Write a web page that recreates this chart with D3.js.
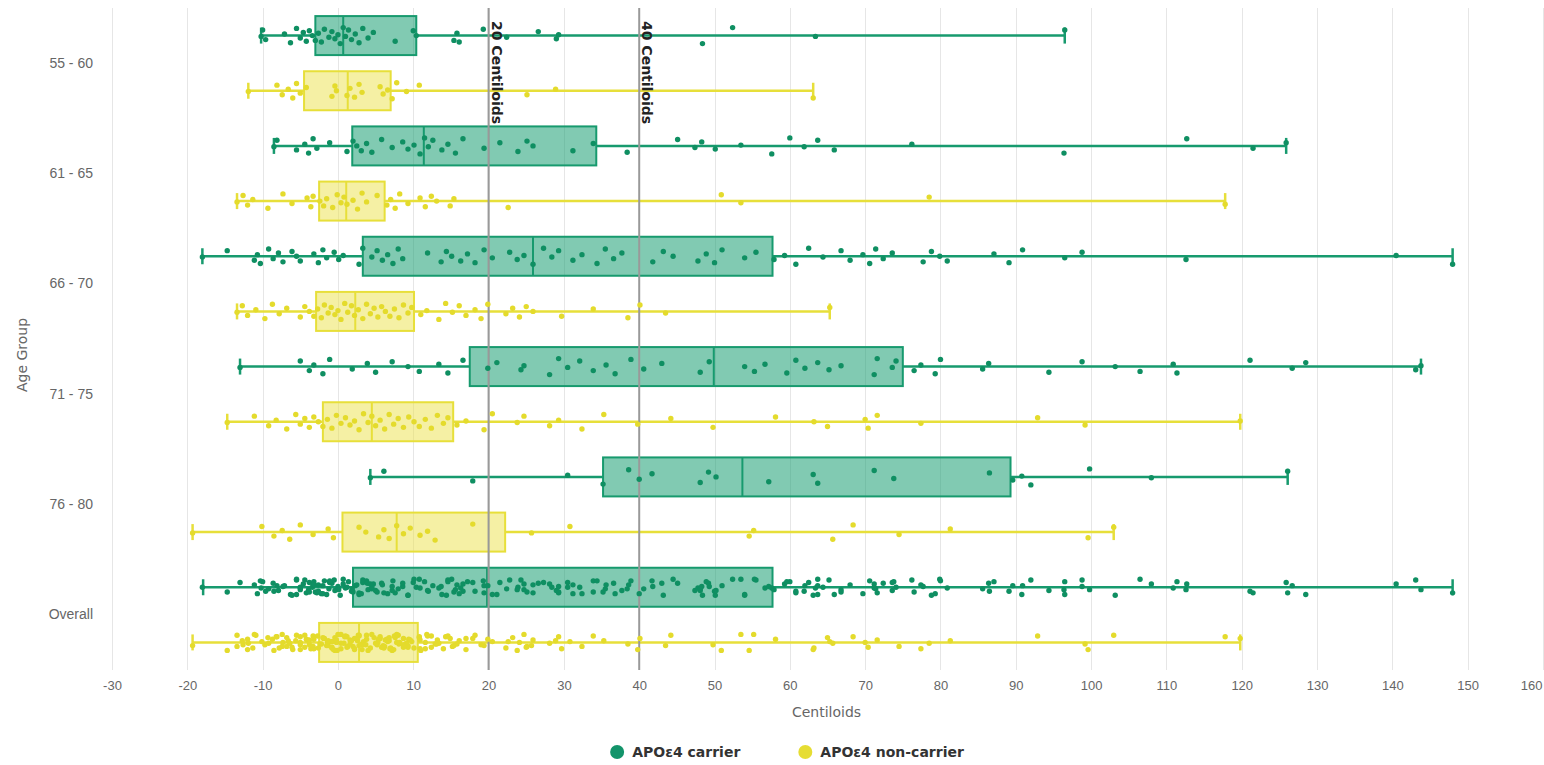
<!DOCTYPE html>
<html>
<head>
<meta charset="utf-8">
<script src="https://cdn.jsdelivr.net/npm/d3@7"></script>
<style>
  html, body { margin: 0; padding: 0; background: #fff; }
  svg { display: block; font-family: "DejaVu Sans", "Open Sans", sans-serif; }
</style>
</head>
<body>
<svg id="chart" width="1544" height="765"></svg>
<script>
// ---- data ---------------------------------------------------------------
const categories = ["55 - 60", "61 - 65", "66 - 70", "71 - 75", "76 - 80", "Overall"];
const seriesNames = ["APOε4 carrier", "APOε4 non-carrier"];
const xTickValues = [-30, -20, -10, 0, 10, 20, 30, 40, 50, 60, 70, 80, 90, 100, 110, 120, 130, 140, 150, 160];
const referenceValues = [20, 40];
const referenceLabels = ["20 Centiloids", "40 Centiloids"];

// box statistics per age group: [low, q1, median, q3, high]
const carrierBoxes = [
  [-10.2, -3.0, 0.7, 10.4, 96.5],
  [-8.5, 1.9, 11.4, 34.3, 125.9],
  [-18.0, 3.3, 25.9, 57.7, 148.0],
  [-13.0, 17.5, 49.9, 75.0, 143.8],
  [4.3, 35.2, 53.7, 89.3, 126.1],
  [-17.9, 2.0, 19.8, 57.7, 148.0]
];
const nonCarrierBoxes = [
  [-11.9, -4.5, 1.3, 7.0, 63.1],
  [-13.4, -2.5, 1.1, 6.2, 117.8],
  [-13.4, -2.9, 2.3, 10.1, 65.3],
  [-14.7, -2.0, 4.5, 15.3, 119.8],
  [-19.3, 0.6, 7.8, 22.2, 103.0],
  [-19.3, -2.5, 2.8, 10.6, 119.8]
];

// individual Centiloid values per age group
const carrier5560 = [-10.2, -10, -9.6, -7.1, -6.3, -5.5, -5.0, -4.6, -4.2, -3.8, -3.4, -3.0, -2.6, -2.2, -1.8, -1.2, -0.8, -0.4, 0, 0.3, 0.7, 1.0, 1.4, 1.8, 2.3, 2.8, 3.3, 4.0, 4.7, 7.6, 10.0, 10.4, 15.4, 15.8, 16.1, 19.3, 22.4, 26.6, 29.0, 29.3, 48.4, 52.4, 63.4, 96.5];
const nonCarrier5560 = [-11.9, -8.1, -7.4, -6.6, -6.0, -5.5, -5.0, -4.2, -0.8, -0.4, -0.2, 1.2, 1.6, 2.2, 2.8, 3.2, 5.6, 6.0, 6.6, 7.2, 7.8, 9.1, 10.8, 25.1, 28.9, 63.1];
const carrier6165 = [-8.5, -8.1, -5.5, -4.4, -3.9, -3.3, -2.8, -1.1, 1.2, 2.0, 2.5, 3.1, 3.8, 4.5, 5.8, 7.2, 8.6, 9.3, 10.1, 10.9, 11.5, 12.0, 12.6, 13.8, 14.6, 15.6, 16.6, 19.4, 21.5, 23.9, 25.1, 25.9, 31.2, 33.9, 38.4, 45.1, 47.4, 48.3, 50.1, 53.5, 57.6, 60.0, 61.9, 63.7, 65.9, 76.2, 96.4, 112.7, 121.5, 125.9];
const nonCarrier6165 = [-13.4, -12.6, -12.0, -11.3, -9.3, -7.3, -6.1, -4.1, -3.6, -3.3, -2.4, -1.9, -1.5, -0.7, -0.1, 0.4, 0.8, 1.2, 2.0, 2.6, 3.2, 3.8, 5.2, 6.5, 7.0, 7.6, 8.2, 9.3, 10.9, 11.6, 12.4, 13.1, 14.9, 15.4, 22.6, 50.9, 53.5, 78.5, 117.8];
const carrier6670 = [-18.0, -14.7, -11.1, -10.7, -10.3, -9.2, -8.6, -7.9, -7.3, -6.1, -5.5, -5.0, -3.2, -2.6, -2.0, -1.5, -0.5, 0.1, 0.7, 2.8, 3.3, 4.5, 5.2, 5.9, 6.6, 7.3, 8.0, 8.6, 11.9, 13.7, 14.4, 15.1, 16.3, 17.2, 18.2, 19.4, 20.5, 22.8, 23.8, 24.7, 25.9, 27.3, 28.4, 29.3, 31.2, 32.4, 34.4, 35.5, 36.6, 37.7, 41.8, 43.2, 44.5, 47.8, 48.9, 50.0, 51.0, 54.0, 55.5, 57.9, 59.3, 60.8, 62.5, 64.4, 66.8, 68.0, 69.7, 70.6, 71.4, 72.4, 73.6, 77.7, 78.8, 79.9, 80.9, 87.1, 89.1, 90.9, 96.5, 98.8, 112.6, 140.5, 148.0];
const nonCarrier6670 = [-13.4, -12.7, -12.0, -10.9, -9.7, -8.7, -7.8, -6.8, -5.0, -4.4, -3.8, -3.2, -2.7, -2.2, -1.8, -1.3, -0.9, -0.4, 0.0, 0.4, 0.9, 1.3, 1.8, 2.2, 2.7, 3.3, 3.8, 4.3, 4.8, 5.3, 5.8, 6.3, 6.9, 7.5, 8.1, 8.7, 9.3, 9.8, 11.0, 11.8, 13.4, 14.3, 15.2, 16.1, 17.0, 18.2, 19.0, 19.9, 22.3, 23.2, 24.1, 25.0, 25.9, 29.7, 33.9, 38.5, 40.1, 43.5, 65.3];
const carrier7175 = [-13.0, -5.0, -3.8, -3.2, -2.0, -1.1, 1.9, 3.9, 5.0, 7.2, 9.3, 10.8, 13.4, 14.6, 16.6, 19.9, 21.1, 24.3, 24.7, 28.1, 29.3, 30.5, 32.1, 33.9, 35.6, 36.8, 38.9, 40.6, 43.0, 48.1, 49.3, 54.0, 55.3, 56.7, 59.6, 60.8, 62.0, 63.7, 65.2, 66.8, 71.2, 71.6, 73.6, 74.1, 76.5, 77.4, 79.3, 80.0, 85.6, 86.4, 94.4, 98.8, 103.2, 106.5, 110.9, 111.4, 121.1, 126.7, 128.5, 143.1, 143.8];
const nonCarrier7175 = [-14.7, -11.1, -9.2, -8.2, -6.8, -5.6, -5.0, -4.4, -3.8, -3.2, -2.6, -2.0, -1.4, -0.8, -0.2, 0.4, 1.0, 1.6, 2.2, 2.8, 3.4, 4.0, 4.5, 5.0, 5.6, 6.2, 6.8, 7.4, 8.0, 8.7, 9.4, 10.1, 10.8, 11.6, 12.4, 13.2, 14.0, 14.6, 15.8, 17.0, 19.4, 20.5, 23.8, 24.7, 28.1, 29.3, 32.4, 35.3, 39.8, 44.2, 49.8, 58.1, 63.2, 65.0, 70.0, 70.4, 71.6, 77.4, 92.9, 99.2, 119.8];
const carrier7680 = [4.3, 6.1, 17.9, 30.5, 35.2, 38.6, 40.0, 41.7, 48.1, 49.2, 50.2, 57.2, 63.1, 63.7, 71.2, 73.8, 86.5, 89.6, 90.8, 92.0, 99.8, 108.0, 126.1];
const nonCarrier7680 = [-19.3, -10.1, -8.5, -7.4, -6.4, -5.0, -3.3, -1.3, -0.6, 2.8, 3.7, 5.4, 6.1, 6.8, 7.8, 8.7, 9.6, 10.9, 11.9, 12.9, 17.9, 25.7, 30.8, 54.6, 55.2, 65.7, 68.4, 74.5, 81.3, 99.6, 103.0];

// the overall group pools every age group
const carrierOverall = [].concat(carrier5560, carrier6165, carrier6670, carrier7175, carrier7680);
const nonCarrierOverall = [].concat(nonCarrier5560, nonCarrier6165, nonCarrier6670, nonCarrier7175, nonCarrier7680);

const carrierPoints = [carrier5560, carrier6165, carrier6670, carrier7175, carrier7680, carrierOverall];
const nonCarrierPoints = [nonCarrier5560, nonCarrier6165, nonCarrier6670, nonCarrier7175, nonCarrier7680, nonCarrierOverall];

// ---- styling ------------------------------------------------------------
const styles = [
  { stroke: "#179a6e", fill: "#1a9e72", fillOpacity: 0.55, dot: "#0f8f62", legend: "#13946a" },
  { stroke: "#e7df3a", fill: "#ebe24a", fillOpacity: 0.5, dot: "#e4db2c", legend: "#e6dd33" }
];
// fixed vertical spread pattern for the strip points
const spread = [0.1, -0.7, 0.5, -0.2, 0.9, -0.9, 0.3, -0.4, 0.7, -0.6, 0.0, 0.6, -0.3, 0.8, -0.8, 0.2, -0.5, 0.4, -0.1, 1.0, -1.0];

// ---- layout -------------------------------------------------------------
const W = 1544, H = 765;
const plot = { left: 112, right: 1543, top: 8, bottom: 670 };

const svg = d3.select("#chart");

const x = d3.scaleLinear().domain([-30, 160]).range([plot.left, plot.right]);
const y = d3.scaleBand().domain(categories).range([plot.top, plot.bottom]).padding(0);
const ySeries = d3.scalePoint().domain(seriesNames).range([0, y.bandwidth()]).padding(0.5);

const boxH = 39, capH = 16;

// vertical grid
svg.append("g")
  .selectAll("line")
  .data(xTickValues)
  .join("line")
  .attr("x1", d => Math.round(x(d)) + 0.5).attr("x2", d => Math.round(x(d)) + 0.5)
  .attr("y1", plot.top).attr("y2", plot.bottom)
  .attr("stroke", "#e6e6e6").attr("stroke-width", 1);

// x axis labels
const xAxis = d3.axisBottom(x).tickValues(xTickValues).tickSize(0).tickPadding(0);
const xg = svg.append("g").attr("transform", `translate(0,${plot.bottom + 11})`).call(xAxis);
xg.select(".domain").remove();
xg.selectAll("text")
  .attr("fill", "#666").style("font-size", "13px").attr("dy", "0.71em")
  .text(d => String(d))
  .each(function (d) {
    // keep the last label inside the canvas
    const t = d3.select(this);
    const w = this.getComputedTextLength();
    const cx = x(d);
    if (cx + w / 2 > W - 2) t.attr("x", (W - 2 - w / 2) - cx);
  });

svg.append("text")
  .attr("x", (plot.left + plot.right) / 2 - 1).attr("y", 717)
  .attr("text-anchor", "middle").attr("fill", "#666").style("font-size", "14px")
  .text("Centiloids");

// y axis labels
const yAxis = d3.axisLeft(y).tickSize(0).tickPadding(0);
const yg = svg.append("g").attr("transform", `translate(${plot.left - 19},0)`).call(yAxis);
yg.select(".domain").remove();
yg.selectAll("text").attr("fill", "#666").style("font-size", "14px");

svg.append("text")
  .attr("transform", `translate(27,${(plot.top + plot.bottom) / 2 + 16}) rotate(-90)`)
  .attr("text-anchor", "middle").attr("fill", "#666").style("font-size", "14px")
  .text("Age Group");

// ---- boxes --------------------------------------------------------------
const boxRows = [];
categories.forEach((cat, i) => {
  boxRows.push({ cat, s: 0, v: carrierBoxes[i] });
  boxRows.push({ cat, s: 1, v: nonCarrierBoxes[i] });
});
const rowY = d => y(d.cat) + ySeries(seriesNames[d.s]);

const boxG = svg.append("g").selectAll("g").data(boxRows).join("g");

boxG.append("rect")
  .attr("x", d => x(d.v[1])).attr("width", d => x(d.v[3]) - x(d.v[1]))
  .attr("y", d => rowY(d) - boxH / 2).attr("height", boxH)
  .attr("fill", d => styles[d.s].fill).attr("fill-opacity", d => styles[d.s].fillOpacity)
  .attr("stroke", d => styles[d.s].stroke).attr("stroke-width", 2);

// stems
boxG.append("line")
  .attr("x1", d => x(d.v[0])).attr("x2", d => x(d.v[1]))
  .attr("y1", rowY).attr("y2", rowY)
  .attr("stroke", d => styles[d.s].stroke).attr("stroke-width", 2.5);
boxG.append("line")
  .attr("x1", d => x(d.v[3])).attr("x2", d => x(d.v[4]))
  .attr("y1", rowY).attr("y2", rowY)
  .attr("stroke", d => styles[d.s].stroke).attr("stroke-width", 2.5);
// whisker caps
[0, 4].forEach(k => {
  boxG.append("line")
    .attr("x1", d => x(d.v[k])).attr("x2", d => x(d.v[k]))
    .attr("y1", d => rowY(d) - capH / 2).attr("y2", d => rowY(d) + capH / 2)
    .attr("stroke", d => styles[d.s].stroke).attr("stroke-width", 2.5);
});
// median
boxG.append("line")
  .attr("x1", d => x(d.v[2])).attr("x2", d => x(d.v[2]))
  .attr("y1", d => rowY(d) - boxH / 2).attr("y2", d => rowY(d) + boxH / 2)
  .attr("stroke", d => styles[d.s].stroke).attr("stroke-width", 2);

// ---- reference lines ----------------------------------------------------
const refG = svg.append("g").selectAll("g").data(referenceValues).join("g");
refG.append("line")
  .attr("x1", d => x(d)).attr("x2", d => x(d))
  .attr("y1", plot.top).attr("y2", plot.bottom)
  .attr("stroke", "#999").attr("stroke-width", 2);
refG.append("text")
  .attr("transform", d => `translate(${x(d) + 3},${plot.top + 13}) rotate(90)`)
  .attr("fill", "#222").style("font-size", "14px").style("font-weight", "bold")
  .text((d, i) => referenceLabels[i]);

// ---- strip points -------------------------------------------------------
const pts = [];
categories.forEach((cat, i) => {
  carrierPoints[i].forEach((v, j) => pts.push({ cat, s: 0, v, j }));
  nonCarrierPoints[i].forEach((v, j) => pts.push({ cat, s: 1, v, j }));
});
svg.append("g").selectAll("circle").data(pts).join("circle")
  .attr("cx", d => x(d.v))
  .attr("cy", d => rowY(d) + spread[d.j % spread.length] * 8)
  .attr("r", 2.7)
  .attr("fill", d => styles[d.s].dot);

// ---- legend -------------------------------------------------------------
const legend = svg.append("g");
const itemGap = 58;
let lx = 0;
seriesNames.forEach((name, i) => {
  const g = legend.append("g").attr("transform", `translate(${lx},0)`);
  g.append("circle").attr("cx", 7).attr("cy", 0).attr("r", 7).attr("fill", styles[i].legend);
  const t = g.append("text").attr("x", 22).attr("dy", "0.35em")
    .attr("fill", "#333").style("font-size", "14px").style("font-weight", "bold").text(name);
  const w = 22 + t.node().getComputedTextLength();
  lx += w + itemGap;
});
const legendW = lx - itemGap;
legend.attr("transform", `translate(${W / 2 - legendW / 2 + 15},752)`);
</script>
</body>
</html>
